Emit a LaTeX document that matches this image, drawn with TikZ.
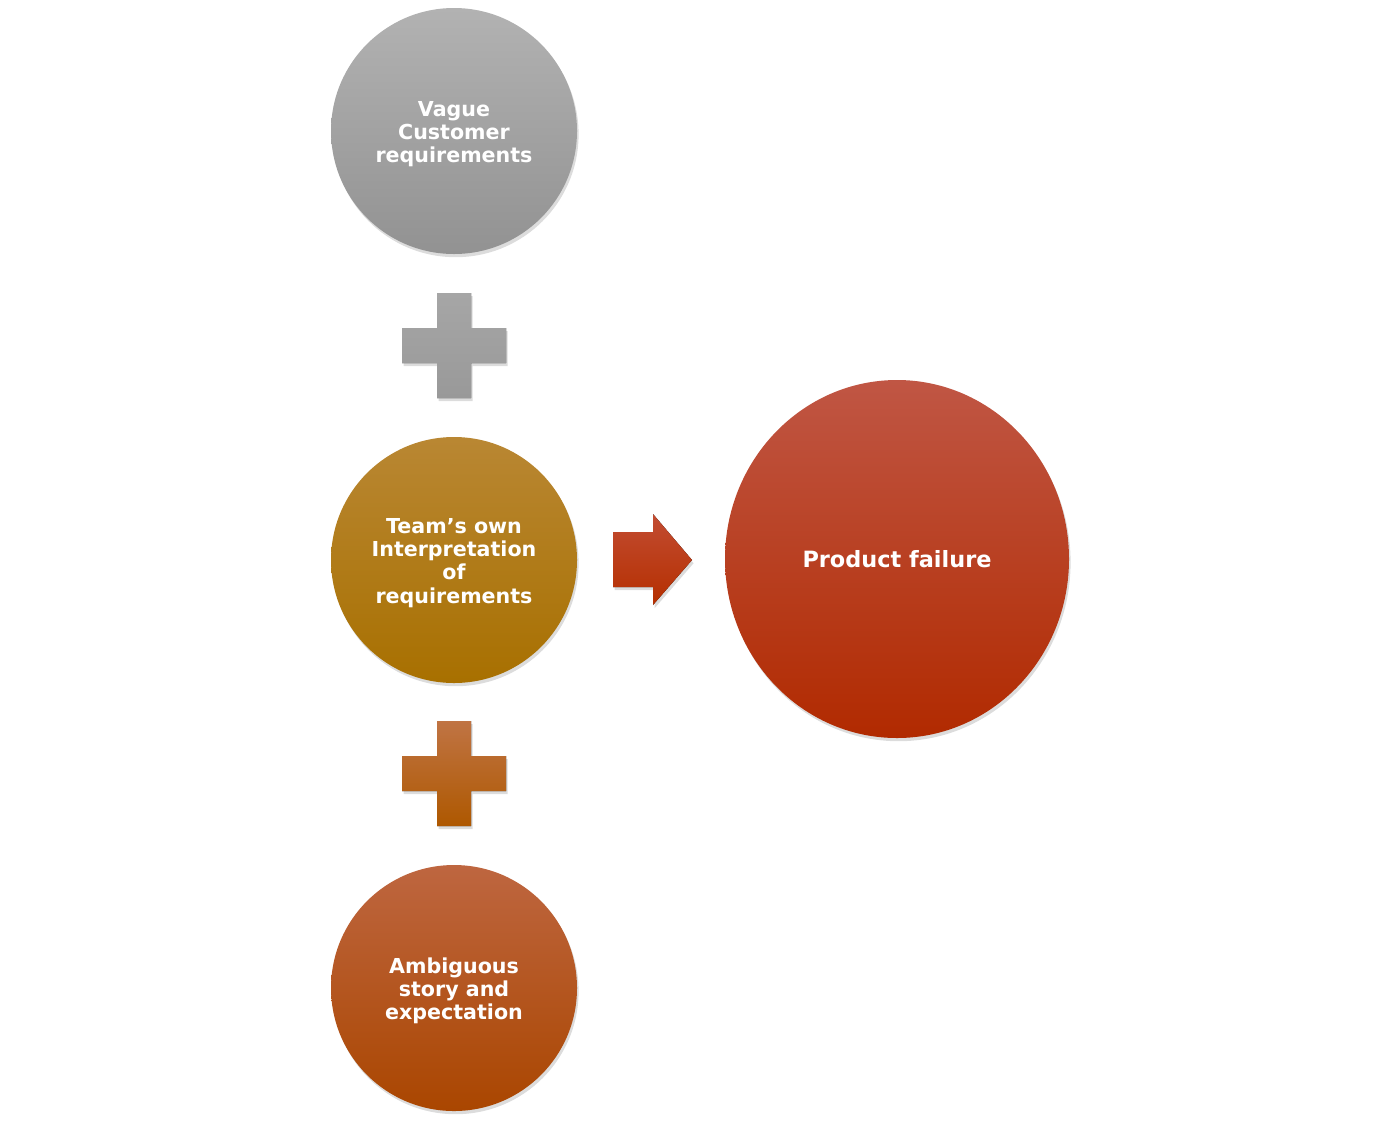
\documentclass[tikz,border=0pt]{standalone}
\usepackage{fontspec}
\setmainfont{DejaVu Sans}
\usetikzlibrary{shadows,shapes.geometric}
\definecolor{grayT}{HTML}{B2B2B2}
\definecolor{grayB}{HTML}{929292}
\definecolor{goldT}{HTML}{B98733}
\definecolor{goldM}{HTML}{AD7812}
\definecolor{goldB}{HTML}{A87000}
\definecolor{rustT}{HTML}{BE6640}
\definecolor{rustM}{HTML}{B45210}
\definecolor{rustB}{HTML}{AA4600}
\definecolor{redT}{HTML}{C05644}
\definecolor{redM}{HTML}{B93204}
\definecolor{redB}{HTML}{B12A00}
\definecolor{plusT}{HTML}{A6A6A6}
\definecolor{plusB}{HTML}{999999}
\definecolor{oplusT}{HTML}{C07444}
\definecolor{oplusB}{HTML}{AE5800}
\definecolor{arrT}{HTML}{C24C32}
\definecolor{arrB}{HTML}{B52F00}
\tikzset{
  softshadow/.style={drop shadow={opacity=0.28,shadow xshift=0.8pt,shadow yshift=-1.6pt}},
  ball/.style={circle,minimum size=123pt,inner sep=0pt,softshadow},
  balltext/.style={text=white,align=center,inner sep=0pt,
    font=\bfseries\fontsize{10.3pt}{11.6pt}\selectfont},
}
\begin{document}
\begin{tikzpicture}[x=0.5pt,y=-0.5pt]
\useasboundingbox (0,0) rectangle (1400,1125);
% circles
\node[ball,top color=grayT,bottom color=grayB,
  label={[balltext,yshift=-1.5pt]center:{Vague\\Customer\\requirements}}] (vague) at (454,131) {};
\node[ball,top color=goldT,middle color=goldM,bottom color=goldB,
  label={[balltext,yshift=-1.5pt]center:{Team’s own\\Interpretation\\of\\requirements}}] (team) at (454,560) {};
\node[ball,top color=rustT,middle color=rustM,bottom color=rustB,
  label={[balltext,yshift=-1.5pt]center:{Ambiguous\\story and\\expectation}}] (amb) at (454,988) {};
\node[ellipse,minimum width=172pt,minimum height=179pt,inner sep=0pt,softshadow,
  top color=redT,middle color=redM,bottom color=redB,
  text=white,font=\bfseries\fontsize{11.2pt}{13pt}\selectfont] (fail) at (897,559) {Product failure};
% plus signs
\coordinate (plusA) at (454,346);
\coordinate (plusB) at (454,774);
\fill[top color=plusT,bottom color=plusB,softshadow]
  ([shift={(-17,-53)}]plusA) -- ([shift={(17,-53)}]plusA) -- ([shift={(17,-18)}]plusA) --
  ([shift={(52,-18)}]plusA) -- ([shift={(52,17)}]plusA) -- ([shift={(17,17)}]plusA) --
  ([shift={(17,52)}]plusA) -- ([shift={(-17,52)}]plusA) -- ([shift={(-17,17)}]plusA) --
  ([shift={(-52,17)}]plusA) -- ([shift={(-52,-18)}]plusA) -- ([shift={(-17,-18)}]plusA) -- cycle;
\fill[top color=oplusT,bottom color=oplusB,softshadow]
  ([shift={(-17,-53)}]plusB) -- ([shift={(17,-53)}]plusB) -- ([shift={(17,-18)}]plusB) --
  ([shift={(52,-18)}]plusB) -- ([shift={(52,17)}]plusB) -- ([shift={(17,17)}]plusB) --
  ([shift={(17,52)}]plusB) -- ([shift={(-17,52)}]plusB) -- ([shift={(-17,17)}]plusB) --
  ([shift={(-52,17)}]plusB) -- ([shift={(-52,-18)}]plusB) -- ([shift={(-17,-18)}]plusB) -- cycle;
% arrow
\coordinate (arr) at (613,560);
\fill[top color=arrT,bottom color=arrB,softshadow]
  ([shift={(0,-28)}]arr) -- ([shift={(40,-28)}]arr) -- ([shift={(40,-46)}]arr) --
  ([shift={(79,0)}]arr) -- ([shift={(40,45)}]arr) -- ([shift={(40,27)}]arr) --
  ([shift={(0,27)}]arr) -- cycle;
\end{tikzpicture}
\end{document}
